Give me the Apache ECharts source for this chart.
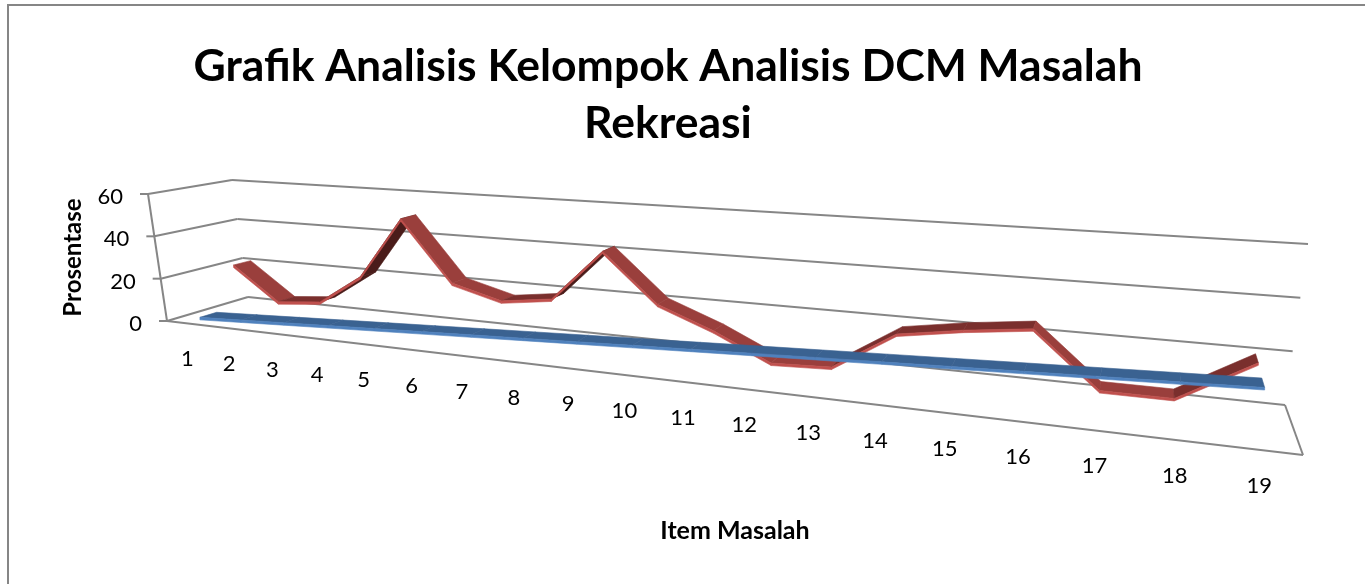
<!DOCTYPE html>
<html lang="id">
<head>
  <meta charset="UTF-8">
  <title>Grafik Analisis Kelompok Analisis DCM Masalah Rekreasi</title>
  <style>
    * { margin: 0; padding: 0; }
    html, body { height: 100%; background: #fff; }
    #chart-container { width: 1365px; height: 584px; }
  </style>
</head>
<body>
  <div id="chart-container"></div>
  <script src="https://cdn.jsdelivr.net/npm/echarts@6/dist/echarts.min.js"></script>
  <script>
    const categories = ['1','2','3','4','5','6','7','8','9','10','11','12','13','14','15','16','17','18','19'];
    const itemValues = [1,2,3,4,5,6,7,8,9,10,11,12,13,14,15,16,17,18,19];
    const prosentaseValues = [21,5,7,21,50,22,16,19,42,21,12,1,2,18,22,25,4,4,20];
    const yTicks = [0,20,40,60];

    const FONT = 'Lato';
    const GRID = { left: 167, top: 194, width: 1136, height: 127 };

    // 1) floor of the 3D box as seen in the picture, plus how tall the box is at its 4 floor corners
    const floorH = homography([167,321],[1303,455],[1285,405],[248,297]);
    const TALL = { frontL: [-19,-127], frontR: [26,-175], backL: [-16,-117], backR: [23,-161] };

    function homography(p0, p1, p2, p3) {
      const dx1 = p1[0]-p2[0], dx2 = p3[0]-p2[0], sx = p0[0]-p1[0]+p2[0]-p3[0];
      const dy1 = p1[1]-p2[1], dy2 = p3[1]-p2[1], sy = p0[1]-p1[1]+p2[1]-p3[1];
      const den = dx1*dy2-dx2*dy1;
      const g = (sx*dy2-dx2*sy)/den, h = (dx1*sy-sx*dy1)/den;
      const a = p1[0]-p0[0]+g*p1[0], b = p3[0]-p0[0]+h*p3[0];
      const d = p1[1]-p0[1]+g*p1[1], e = p3[1]-p0[1]+h*p3[1];
      return (u, w) => {
        const q = g*u+h*w+1;
        return [(a*u+b*w+p0[0])/q, (d*u+e*w+p0[1])/q];
      };
    }

    function mix(a, b, t) {
      return [a[0]+(b[0]-a[0])*t, a[1]+(b[1]-a[1])*t];
    }

    // 2) axis pixel -> slanted screen point, depth 0 = front, 1 = back wall
    function project(pt, depth) {
      const u = (pt[0]-GRID.left)/GRID.width;
      const v = (GRID.top+GRID.height-pt[1])/GRID.height;
      const f = floorH(u, depth);
      const xL = floorH(0, depth)[0], xR = floorH(1, depth)[0];
      const t = (f[0]-xL)/(xR-xL);
      const tall = mix(mix(TALL.frontL, TALL.frontR, t), mix(TALL.backL, TALL.backR, t), depth);
      return [f[0]+tall[0]*v, f[1]+tall[1]*v];
    }

    function poly(points, fill) {
      return { type: 'polygon', shape: { points: points },
        style: { fill: fill, stroke: fill, lineWidth: 0.6 } };
    }

    function line(a, b) {
      return { type: 'line', shape: { x1: a[0], y1: a[1], x2: b[0], y2: b[1] },
        style: { stroke: '#868686', lineWidth: 2 } };
    }

    function label(text, x, y, align) {
      return { type: 'text', style: { text: text, x: x, y: y, align: align, verticalAlign: 'middle',
        fontFamily: FONT, fontSize: 22, fill: '#000' } };
    }

    // 3) walls: one gridline per y tick
    function renderWall(params, api) {
      const y = api.coord([0, api.value(0)])[1];
      const yTop = api.coord([0, 60])[1];
      const L = GRID.left, R = GRID.left+GRID.width;
      const front = project([L, y], 0), back = project([L, y], 1);
      const children = [
        line(project([L, y], 1), project([R, y], 1)),
        line(front, back),
        line([front[0]-8, front[1]], front),
        label(String(api.value(0)), front[0]-25, front[1]+3, 'right')
      ];
      if (params.dataIndex === 0) {
        children.push(line(front, project([L, yTop], 0)));
        children.push(line(project([L, y], 0), project([R, y], 0)));
        children.push(line(project([R, y], 0), project([R, y], 1)));
      }
      return { type: 'group', children: children };
    }

    // 4) ribbon segment between two neighbouring categories
    function ribbon(values, d1, d2, colors) {
      return function (params, api) {
        const i = params.dataIndex;
        if (i >= values.length-1) return { type: 'group', children: [] };
        const a = api.coord([i, values[i]]), b = api.coord([i+1, values[i+1]]);
        const a0 = project(a, d1), b0 = project(b, d1);
        const a1 = project(a, d2), b1 = project(b, d2);
        const drop = 2.5;
        const sx = b0[0]-a0[0], sy = b0[1]-a0[1];
        const dx = a1[0]-a0[0], dy = a1[1]-a0[1];
        const flipped = sx*dy-sy*dx > 0;
        const rising = sy/sx < 0.02;
        const face = flipped ? colors.under : (rising && colors.rise ? colors.rise : colors.face);
        return { type: 'group', children: [
          poly([a0, b0, b1, a1], face),
          poly([a0, b0, [b0[0], b0[1]+drop], [a0[0], a0[1]+drop]], colors.edge)
        ] };
      };
    }

    function renderLabel(params, api) {
      const p = project(api.coord([params.dataIndex, 0]), 0);
      return label(categories[params.dataIndex], p[0], p[1]+36, 'center');
    }

    const myChart = echarts.init(document.getElementById('chart-container'), null, { renderer: 'canvas' });

    myChart.setOption({
      animation: false,
      backgroundColor: '#fff',
      title: {
        text: 'Grafik Analisis Kelompok Analisis DCM Masalah\nRekreasi',
        left: 663, top: 33, textAlign: 'center',
        textStyle: { fontFamily: FONT, fontWeight: 'bold', fontSize: 44.5, lineHeight: 57, color: '#000' }
      },
      graphic: [{ type: 'rect', shape: { x: 8, y: 5, width: 1500, height: 700 },
        style: { fill: 'none', stroke: '#868686', lineWidth: 2 }, silent: true }],
      grid: GRID,
      xAxis: {
        type: 'category', data: categories,
        name: 'Item Masalah', nameLocation: 'middle', nameGap: 197,
        nameTextStyle: { fontFamily: FONT, fontWeight: 'bold', fontSize: 25, color: '#000' },
        axisLine: { show: false }, axisTick: { show: false }, axisLabel: { show: false }
      },
      yAxis: {
        type: 'value', min: 0, max: 60, interval: 20,
        name: 'Prosentase', nameLocation: 'middle', nameGap: 82,
        nameTextStyle: { fontFamily: FONT, fontWeight: 'bold', fontSize: 24, color: '#000' },
        axisLine: { show: false }, axisTick: { show: false }, axisLabel: { show: false }, splitLine: { show: false }
      },
      series: [
        { type: 'custom', name: 'Dinding', coordinateSystem: 'cartesian2d', clip: false, z: 1,
          data: yTicks.map(v => [v]), encode: { y: 0 }, renderItem: renderWall },
        { type: 'custom', name: 'Prosentase', coordinateSystem: 'cartesian2d', clip: false, z: 2,
          data: prosentaseValues.map((v, i) => [i, v]),
          renderItem: ribbon(prosentaseValues, 0.63, 0.85, { face: '#9a3f3c', rise: '#7a2f2d', under: '#4a1c1a', edge: '#c0504d' }) },
        { type: 'custom', name: 'Item', coordinateSystem: 'cartesian2d', clip: false, z: 3,
          data: itemValues.map((v, i) => [i, v]),
          renderItem: ribbon(itemValues, 0.15, 0.35, { face: '#3a6291', under: '#2b4a70', edge: '#4f81bd' }) },
        { type: 'custom', name: 'Label', coordinateSystem: 'cartesian2d', clip: false, z: 4,
          data: categories.map((c, i) => [i, 0]), renderItem: renderLabel }
      ]
    });
    window.addEventListener('resize', () => myChart.resize());
  </script>
</body>
</html>
